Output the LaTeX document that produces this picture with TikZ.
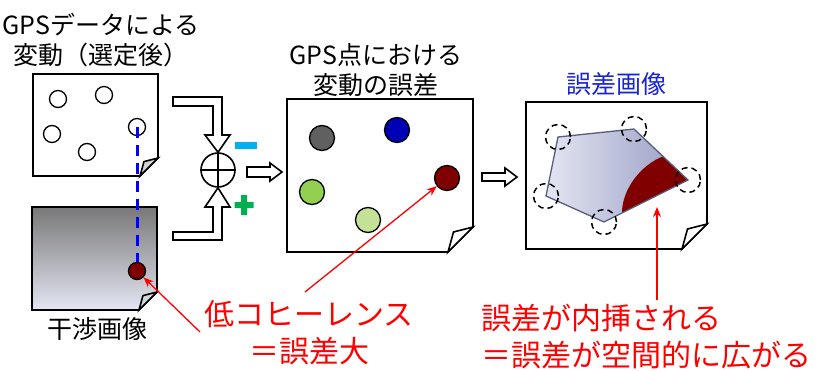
\documentclass[tikz,border=0pt]{standalone}
\usepackage{fontspec}
\setmainfont{Noto Sans CJK JP}
\usetikzlibrary{arrows.meta}

\definecolor{errred}{RGB}{128,0,0}
\definecolor{minuscyan}{RGB}{0,176,240}
\definecolor{plusgreen}{RGB}{0,176,80}
\definecolor{titleblue}{RGB}{25,35,215}
\definecolor{ptgray}{RGB}{96,96,96}
\definecolor{ptblue}{RGB}{0,0,180}
\definecolor{ptgreen}{RGB}{146,208,80}
\definecolor{ptlgreen}{RGB}{196,226,150}
\definecolor{foldgray}{RGB}{212,212,212}
\definecolor{slate}{RGB}{85,95,125}
\definecolor{paleblue}{RGB}{228,230,242}
\definecolor{duskblue}{RGB}{150,155,195}

\tikzset{
  sheet/.style={draw, line width=1.6pt, line join=miter},
  gpspt/.style={circle, draw, line width=1.3pt, minimum size=17pt, inner sep=0pt, fill=white},
  errpt/.style={circle, draw, line width=1.3pt, minimum size=25pt, inner sep=0pt},
  vtx/.style={circle, draw, dash pattern=on 6pt off 4pt, line width=1.5pt, minimum size=25pt, inner sep=0pt},
  hollow/.style={draw, line width=1.6pt, fill=white, line join=miter},
  redarrow/.style={red, line width=1.3pt, -{Stealth[length=10pt,width=8pt]}},
  title/.style={font=\fontsize{25}{30}\selectfont, align=center},
  note/.style={text=red, font=\fontsize{30}{37}\selectfont}
}

% sheet with a folded corner: x1 y1 x2 y2 fold body-style fold-colour
\newcommand{\paper}[7]{%
  \draw[sheet,#6] (#1,#2) -- (#3,#2) -- (#3,#4-#5) -- (#3-#5,#4) -- (#1,#4) -- cycle;
  \draw[sheet,fill=#7] (#3-#5,#4) -- (#3-0.78*#5,#4-0.8*#5) -- (#3,#4-#5)
    .. controls (#3-0.42*#5,#4-0.58*#5) .. (#3-#5,#4) -- cycle;
}

\begin{document}
\begin{tikzpicture}[x=1pt,y=-1pt]
  \useasboundingbox (0,0) rectangle (827,370);

  % GPS data sheet
  \node[title] (gpstitle) at (101,40) {GPSデータによる\\変動（選定後）};
  \paper{33}{74}{158}{176}{18}{fill=white}{foldgray}
  \node[gpspt] (gps1) at (58,99) {};
  \node[gpspt] (gps2) at (104,95) {};
  \node[gpspt] (gps3) at (52,134) {};
  \node[gpspt] (gps4) at (87,152) {};
  \node[gpspt] (gps5) at (137,127) {};

  % interferogram
  \paper{32}{207}{157}{310}{18}{top color={rgb,255:red,120;green,120;blue,120}, middle color={rgb,255:red,200;green,201;blue,207}, bottom color=paleblue}{foldgray}
  \node[gpspt, fill=errred] (coh) at (137,271) {};
  \node[title] (ifgtitle) at (97,329) {干渉画像};
  \draw[blue, line width=3pt, dash pattern=on 11pt off 7pt] (gps5.center) -- (coh.north);

  % difference
  \node[circle, draw, line width=1.6pt, minimum size=34pt, inner sep=0pt] (sum) at (218,170) {};
  \draw[line width=1.6pt] (sum.north) -- (sum.south) (sum.west) -- (sum.east);
  \draw[hollow] (173,97) -- (222,97) -- (222,135) -- (230,135) -- (sum.north)
    -- (205,135) -- (213,135) -- (213,106) -- (173,106) -- cycle;
  \draw[hollow] (173,240) -- (222,240) -- (222,207) -- (230,207) -- (sum.south)
    -- (205,207) -- (213,207) -- (213,232) -- (173,232) -- cycle;
  \fill[minuscyan] (235,142) rectangle (257,149);
  \fill[plusgreen] (234.5,202) rectangle (253.5,208) (241,195) rectangle (247,215);
  \draw[hollow] (247,167) -- (270,167) -- (270,163) -- (282,172) -- (270,181)
    -- (270,177) -- (247,177) -- cycle;

  % error at GPS points
  \node[title] (errtitle) at (376,70) {GPS点における\\変動の誤差};
  \paper{287}{99}{473}{252}{25}{fill=white}{white}
  \node[errpt, fill=ptgray] (err1) at (322,138) {};
  \node[errpt, fill=ptblue] (err2) at (397,130) {};
  \node[errpt, fill=ptgreen] (err3) at (312,192) {};
  \node[errpt, fill=ptlgreen] (err4) at (368,220) {};
  \node[errpt, fill=errred] (err5) at (447,178) {};
  \draw[hollow] (482,173) -- (505,173) -- (505,168) -- (517,177) -- (505,186)
    -- (505,181) -- (482,181) -- cycle;

  % error image
  \node[title, text=titleblue] (imgtitle) at (616,84) {誤差画像};
  \paper{526}{102}{707}{249}{25}{fill=white}{white}
  \coordinate (p1) at (558,137);
  \coordinate (p2) at (634,129);
  \coordinate (p3) at (688,180);
  \coordinate (p4) at (604,222);
  \coordinate (p5) at (546,196);
  \shade[left color=paleblue, right color=duskblue] (p1) -- (p2) -- (p3) -- (p4) -- (p5) -- cycle;
  \begin{scope}
    \clip (p1) -- (p2) -- (p3) -- (p4) -- (p5) -- cycle;
    \fill[errred] (622,225) -- (622,213) .. controls (622,190) and (640,165) .. (664,156)
      -- (700,156) -- (700,225) -- cycle;
  \end{scope}
  \draw[slate, line width=1.3pt, line join=miter] (p1) -- (p2) -- (p3) -- (p4) -- (p5) -- cycle;
  \node[vtx] (v1) at (p1) {};
  \node[vtx] (v2) at (p2) {};
  \node[vtx] (v3) at (p3) {};
  \node[vtx] (v4) at (p4) {};
  \node[vtx] (v5) at (p5) {};

  % notes
  \node[note, align=center] (lowcoh) at (309,333) {低コヒーレンス\\＝誤差大};
  \coordinate (lowcoh-l) at (200,332);
  \coordinate (lowcoh-r) at (305,292);
  \draw[redarrow] (lowcoh-l) -- (coh);
  \draw[redarrow] (lowcoh-r) -- (err5);
  \node[note, align=left, anchor=west] (interp) at (478,337) {誤差が内挿される\\＝誤差が空間的に広がる};
  \coordinate (interp-top) at (657,300);
  \coordinate (redzone) at (657,207);
  \draw[redarrow] (interp-top) -- (redzone);
\end{tikzpicture}
\end{document}
